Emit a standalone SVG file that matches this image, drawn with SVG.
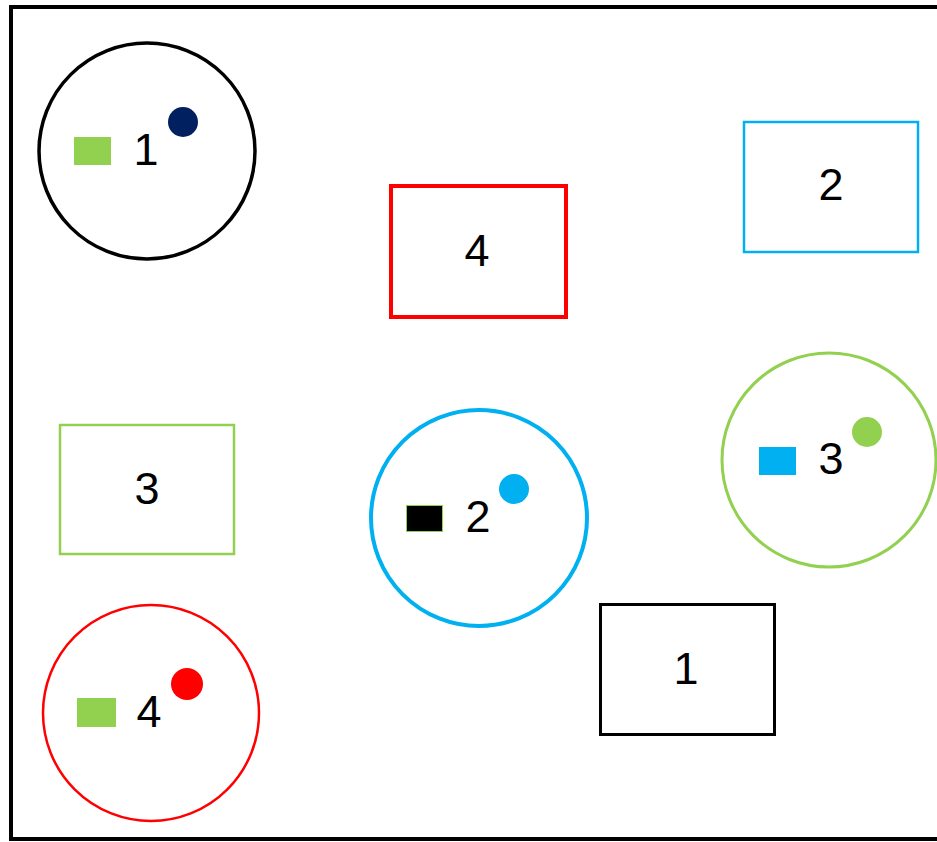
<svg xmlns="http://www.w3.org/2000/svg" width="937" height="842" viewBox="0 0 937 842">
<style>
text{font-family:"Liberation Sans",Arial,sans-serif;font-size:45px;fill:#000;text-anchor:middle}
.dot{stroke:none}
</style>
<rect width="937" height="842" fill="#fff"/>
<rect id="frame" x="11" y="7" width="940" height="832" fill="none" stroke="#000" stroke-width="4"/>
<g id="connectors"/>
<g id="circle1">
<circle cx="147" cy="151" r="108" fill="none" stroke="#000" stroke-width="3.5"/>
<rect x="74" y="137" width="37" height="28" fill="#92d050"/>
<text x="146" y="165">1</text>
<circle class="dot" cx="183" cy="122" r="15" fill="#002060"/>
</g>
<g id="box4">
<rect x="391" y="186" width="175" height="131" fill="none" stroke="#ff0000" stroke-width="4"/>
<text x="477" y="266">4</text>
</g>
<g id="box2">
<rect x="744" y="122" width="174" height="130" fill="none" stroke="#00b0f0" stroke-width="2.5"/>
<text x="831" y="200">2</text>
</g>
<g id="box3">
<rect x="60" y="425" width="174" height="129" fill="none" stroke="#92d050" stroke-width="2.5"/>
<text x="147" y="504">3</text>
</g>
<g id="circle2">
<circle cx="479" cy="518" r="108" fill="none" stroke="#00b0f0" stroke-width="4"/>
<rect x="406.5" y="505.5" width="36" height="26" fill="#000" stroke="#92d050" stroke-width="1"/>
<text x="478" y="532">2</text>
<circle class="dot" cx="514" cy="489" r="15" fill="#00b0f0"/>
</g>
<g id="circle3">
<circle cx="829" cy="460" r="107" fill="none" stroke="#92d050" stroke-width="3"/>
<rect x="759" y="447" width="37" height="28" fill="#00b0f0"/>
<text x="831" y="474">3</text>
<circle class="dot" cx="867" cy="432" r="15" fill="#92d050"/>
</g>
<g id="circle4">
<circle cx="151" cy="713" r="108" fill="none" stroke="#ff0000" stroke-width="2.5"/>
<rect x="77" y="698" width="39" height="29" fill="#92d050"/>
<text x="149" y="727">4</text>
<circle class="dot" cx="187" cy="684" r="16" fill="#ff0000"/>
</g>
<g id="box1">
<rect x="600.5" y="604.5" width="174" height="130" fill="none" stroke="#000" stroke-width="3"/>
<text x="686" y="684">1</text>
</g>
</svg>
